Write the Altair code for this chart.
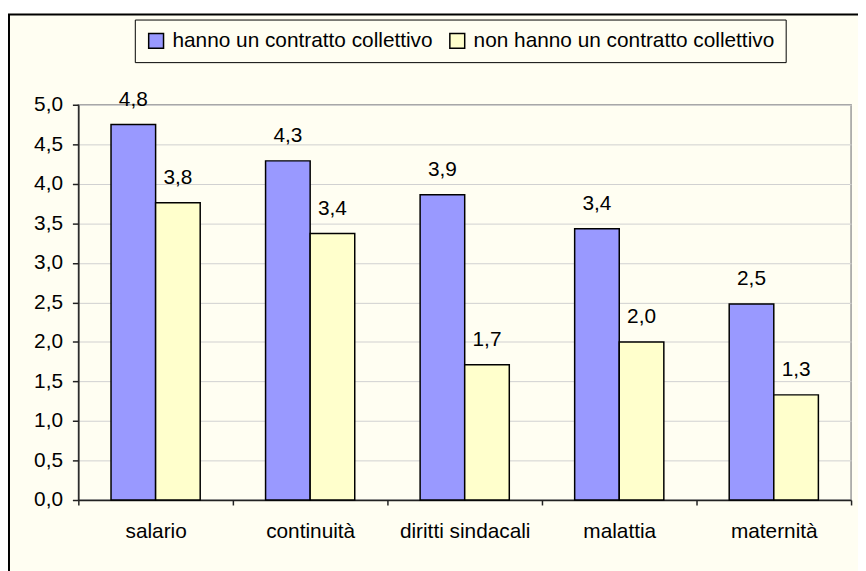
import altair as alt
import pandas as pd

categories = ["salario", "continuità", "diritti sindacali", "malattia", "maternità"]
series = ["hanno un contratto collettivo", "non hanno un contratto collettivo"]
with_contract = [4.75, 4.29, 3.86, 3.43, 2.48]
without_contract = [3.76, 3.37, 1.71, 2.00, 1.33]
y_ticks = [0, 0.5, 1, 1.5, 2, 2.5, 3, 3.5, 4, 4.5, 5]
colors = ["#9999FF", "#FFFFCC"]

rows = []
for i, c in enumerate(categories):
    rows.append({"cat": c, "serie": series[0], "v": with_contract[i]})
    rows.append({"cat": c, "serie": series[1], "v": without_contract[i]})
df = pd.DataFrame(rows)

BG = "#FFFEF2"
FONT = "Liberation Sans"
FS = 21

x = alt.X(
    "cat:N", sort=categories, title=None,
    scale=alt.Scale(paddingInner=0, paddingOuter=0),
    axis=alt.Axis(labelAngle=0, tickBand="extent", tickSize=5, labelPadding=16,
                  labelFontSize=FS, labelFont=FONT, labelColor="black",
                  domainColor="#222222", domainWidth=1.5, tickColor="#222222",
                  tickWidth=1.5, grid=False),
)
xo = alt.XOffset("serie:N", sort=series,
                 scale=alt.Scale(paddingInner=0, paddingOuter=0.733))
y = alt.Y(
    "v:Q", title=None, scale=alt.Scale(domain=[0, 5], nice=False),
    axis=alt.Axis(values=y_ticks,
                  labelExpr="replace(format(datum.value, '.1f'), '.', ',')",
                  tickSize=6, labelPadding=10, labelFontSize=FS, labelFont=FONT,
                  labelColor="black", grid=True, gridColor="#D0D0D0", gridWidth=1,
                  domainColor="#222222", domainWidth=1.5, tickColor="#222222",
                  tickWidth=1.5),
)
color = alt.Color(
    "serie:N", sort=series,
    scale=alt.Scale(domain=series, range=colors),
    legend=alt.Legend(title=None, orient="none", legendX=57, legendY=-86,
                      direction="horizontal", symbolType="square", symbolSize=225,
                      symbolStrokeColor="black", symbolStrokeWidth=1.5,
                      labelFontSize=FS, labelFont=FONT, labelColor="black",
                      labelLimit=500, labelOffset=6, columnPadding=14, padding=11,
                      strokeColor="black", fillColor=BG),
)

bars = alt.Chart(df).mark_bar(stroke="black", strokeWidth=1.5).encode(
    x=x, xOffset=xo, y=y, color=color
)
labels = alt.Chart(df).transform_calculate(
    lab="replace(format(datum.v, '.1f'), '.', ',')"
).mark_text(baseline="alphabetic", dy=-19, fontSize=FS, font=FONT, color="black").encode(
    x=x, xOffset=xo, y=y, text="lab:N"
)

one = pd.DataFrame({"k": [0]})
strip = alt.Chart(one).mark_rect(fill="white").encode(
    x=alt.value(-80), x2=alt.value(900), y=alt.value(-100), y2=alt.value(-92)
)
frame = alt.Chart(one).mark_rect(fillOpacity=0, stroke="black", strokeWidth=2).encode(
    x=alt.value(-70), x2=alt.value(900), y=alt.value(-91), y2=alt.value(700)
)

chart = alt.layer(strip, frame, bars, labels).properties(
    width=780, height=399,
    padding={"left": 71, "top": 95, "right": 7, "bottom": 69},
    autosize=alt.AutoSizeParams(type="none"),
    background=BG,
).configure_view(stroke="#9A9A9A", strokeWidth=1.5).configure_text(font=FONT)

chart.save("out.html", embed_options={"renderer": "svg", "actions": False})
